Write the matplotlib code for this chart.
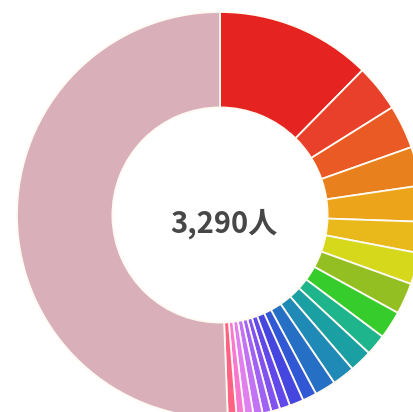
# donut chart of 3,290 people
import matplotlib
matplotlib.use('Agg')
import matplotlib.pyplot as plt

plt.rcParams['font.family'] = ['Noto Sans CJK JP', 'DejaVu Sans']

# values, clockwise from the top
values = [407, 123, 114, 102, 94, 82, 82, 82, 73, 55, 59, 59, 55,
          37, 37, 27, 23, 23, 24, 23, 21, 23, 1665]
colors = ['#e52421', '#e8402a', '#ea5a24', '#e8801e', '#eca51a', '#e9b91c',
          '#d6d81c', '#93bf22', '#35cc2c', '#1fb58c', '#1a9fa3', '#1f8ab5',
          '#2570c5', '#3058d5', '#4545e0', '#6048ea', '#8052f0', '#a062f5',
          '#c272f5', '#e07ff0', '#f878d0', '#ff6282', '#d9afba']
total_label = '3,290人'

fig = plt.figure(figsize=(4.13, 4.12), dpi=100)
ax = fig.add_axes([0, 0, 1, 1])
ax.pie(values, colors=colors, startangle=90, counterclock=False, radius=1,
       wedgeprops=dict(width=0.47, edgecolor='#fffaf2', linewidth=1.3))

# centre at pixel (220, 215), outer radius 203 px
ax.set_xlim(-220 / 203, 193 / 203)
ax.set_ylim(-197 / 203, 215 / 203)
ax.set_aspect('auto')
ax.axis('off')

ax.text(0.02, -0.045, total_label, ha='center', va='center', fontsize=21,
        fontweight='bold', color='#474747')

fig.savefig('out.png', dpi=100)
